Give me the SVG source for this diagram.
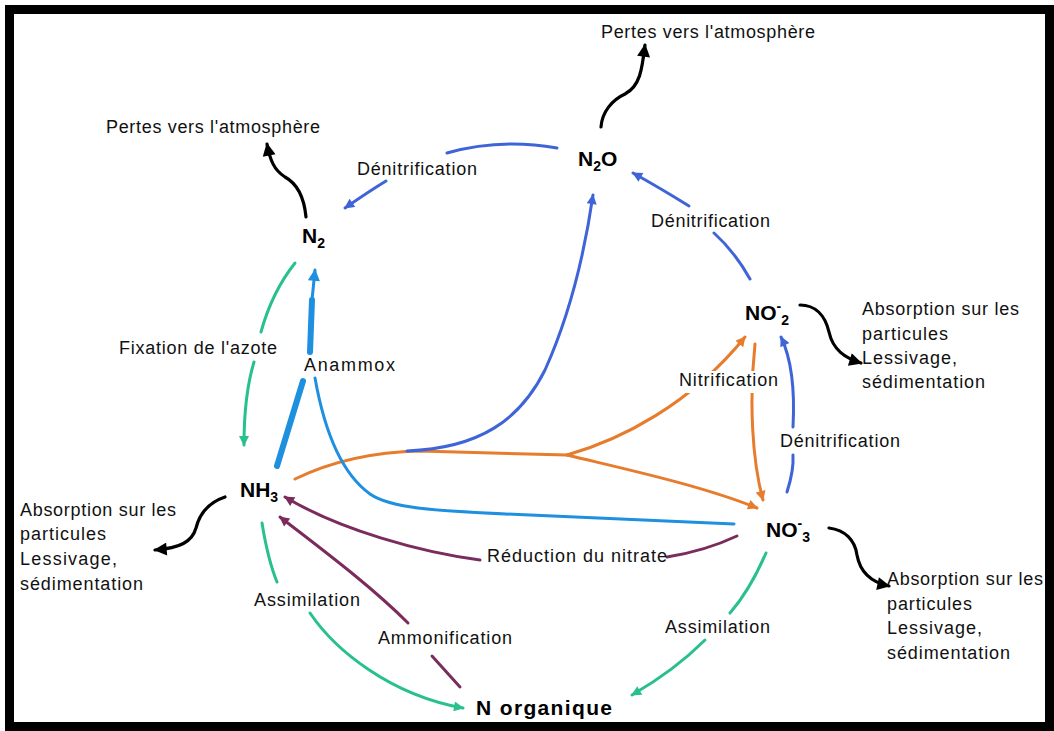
<svg xmlns="http://www.w3.org/2000/svg" width="1054" height="731" viewBox="0 0 1054 731">
<defs>
<style>
.lbl{font-family:"Liberation Sans",Arial,sans-serif;font-size:18px;fill:#111}
.node{font-family:"Liberation Sans",Arial,sans-serif;font-size:21px;font-weight:bold;fill:#000}
.sub{font-size:14px}
.c{fill:none;stroke-width:3;stroke-linecap:round}
.k{stroke:#000;stroke-width:3.2}
.b{stroke:#3e64d8}
.lb{stroke:#1f8fe0}
.o{stroke:#e67c2c}
.g{stroke:#28c08c}
.p{stroke:#7a2c5c}
</style>
<marker id="mk" viewBox="0 0 10 10" refX="9" refY="5" markerWidth="14" markerHeight="13" markerUnits="userSpaceOnUse" orient="auto"><path d="M0,0 L10,5 L0,10 z" fill="#000"/></marker>
<marker id="mb" viewBox="0 0 10 10" refX="9" refY="5" markerWidth="12" markerHeight="10" markerUnits="userSpaceOnUse" orient="auto"><path d="M0,0 L10,5 L0,10 z" fill="#3e64d8"/></marker>
<marker id="mlb" viewBox="0 0 10 10" refX="9" refY="5" markerWidth="13" markerHeight="12" markerUnits="userSpaceOnUse" orient="auto"><path d="M0,0 L10,5 L0,10 z" fill="#1f8fe0"/></marker>
<marker id="mo" viewBox="0 0 10 10" refX="9" refY="5" markerWidth="12" markerHeight="10" markerUnits="userSpaceOnUse" orient="auto"><path d="M0,0 L10,5 L0,10 z" fill="#e67c2c"/></marker>
<marker id="mg" viewBox="0 0 10 10" refX="9" refY="5" markerWidth="12" markerHeight="10" markerUnits="userSpaceOnUse" orient="auto"><path d="M0,0 L10,5 L0,10 z" fill="#28c08c"/></marker>
<marker id="mp" viewBox="0 0 10 10" refX="9" refY="5" markerWidth="12" markerHeight="10" markerUnits="userSpaceOnUse" orient="auto"><path d="M0,0 L10,5 L0,10 z" fill="#7a2c5c"/></marker>
</defs>
<rect x="0" y="0" width="1054" height="731" fill="#fff"/>
<rect x="9.5" y="9.5" width="1040" height="717" fill="#fff" stroke="#000" stroke-width="9"/>

<g id="connectors">
<!-- black loss arrows -->
<path class="c k" d="M306,217 C304,196 296,183 285,177 C274,170 270,160 267,144" marker-end="url(#mk)"/>
<path class="c k" d="M601,127 C602,112 612,100 625,94 C640,86 642,70 645,45" marker-end="url(#mk)"/>
<path class="c k" d="M800,305 C815,305 825,315 829,332 C833,350 845,358 861,363" marker-end="url(#mk)"/>
<path class="c k" d="M829,528 C845,530 855,540 857,555 C860,572 870,582 889,586" marker-end="url(#mk)"/>
<path class="c k" d="M225,497 C210,502 200,512 196,528 C192,542 180,548 155,550" marker-end="url(#mk)"/>
<!-- denitrification (blue) -->
<path class="c b" d="M557,148 Q500,138 447,153"/>
<path class="c b" d="M386,181 Q368,192 345,208" marker-end="url(#mb)"/>
<path class="c b" d="M750,279 Q735,252 714,233"/>
<path class="c b" d="M689,206 Q660,188 633,173" marker-end="url(#mb)"/>
<path class="c b" d="M787,492 Q794,470 793,455"/>
<path class="c b" d="M793,427 C795,390 792,360 781,337" marker-end="url(#mb)"/>
<!-- orange nitrification -->
<path class="c o" d="M295,479 C330,462 370,452 420,451 L567,455"/>
<path class="c o" d="M567,455 C620,440 690,405 745,337" marker-end="url(#mo)"/>
<path class="c o" d="M567,455 C620,468 700,485 757,508" marker-end="url(#mo)"/>
<path class="c o" d="M755,344 C749,400 752,460 763,500" marker-end="url(#mo)"/>
<!-- NH3 to N2O (blue over orange) -->
<path class="c b" d="M407,451 C480,448 520,420 545,370 C572,310 585,250 593,195" marker-end="url(#mb)"/>
<!-- anammox -->
<path class="c lb" d="M734,524 L530,515 C430,511 390,508 370,494 C345,476 326,440 315,378"/>
<path class="c lb" style="stroke-width:6" d="M277,466 L303,381"/>
<path class="c lb" style="stroke-width:6" d="M310,352 L312,300"/>
<path class="c lb" d="M312,300 L315,270" marker-end="url(#mlb)"/>
<!-- green -->
<path class="c g" d="M295,263 Q272,292 261,332"/>
<path class="c g" d="M254,362 Q244,395 244,445" marker-end="url(#mg)"/>
<path class="c g" d="M262,523 Q268,560 277,582"/>
<path class="c g" d="M310,613 C335,650 390,695 463,708" marker-end="url(#mg)"/>
<path class="c g" d="M766,553 Q750,590 730,613"/>
<path class="c g" d="M705,640 Q675,670 632,695" marker-end="url(#mg)"/>
<!-- purple -->
<path class="c p" d="M737,536 Q705,551 667,557"/>
<path class="c p" d="M480,560 C420,552 340,530 285,497" marker-end="url(#mp)"/>
<path class="c p" d="M460,687 L432,656"/>
<path class="c p" d="M408,623 C370,585 320,548 280,517" marker-end="url(#mp)"/>
<!-- labels -->
<rect x="677" y="371" width="103" height="22" fill="#fff"/>
<text class="lbl" x="357" y="175" textLength="120" lengthAdjust="spacing">Dénitrification</text>
<text class="lbl" x="651" y="227" textLength="119" lengthAdjust="spacing">Dénitrification</text>
<text class="lbl" x="780" y="447" textLength="120" lengthAdjust="spacing">Dénitrification</text>
<text class="lbl" x="119" y="354" textLength="158" lengthAdjust="spacing">Fixation de l'azote</text>
<text class="lbl" x="304" y="371" textLength="91" lengthAdjust="spacing">Anammox</text>
<text class="lbl" x="679" y="386" textLength="99" lengthAdjust="spacing">Nitrification</text>
<text class="lbl" x="487" y="562" textLength="180" lengthAdjust="spacing">Réduction du nitrate</text>
<text class="lbl" x="254" y="606" textLength="106" lengthAdjust="spacing">Assimilation</text>
<text class="lbl" x="378" y="644" textLength="134" lengthAdjust="spacing">Ammonification</text>
<text class="lbl" x="665" y="633" textLength="105" lengthAdjust="spacing">Assimilation</text>
</g>

<g id="loss-n2"><text class="lbl" x="106" y="133" textLength="214" lengthAdjust="spacing">Pertes vers l'atmosphère</text></g>
<g id="loss-n2o"><text class="lbl" x="601" y="38" textLength="214" lengthAdjust="spacing">Pertes vers l'atmosphère</text></g>
<g id="sorb-no2">
<text class="lbl" x="862" y="315" textLength="157" lengthAdjust="spacing">Absorption sur les</text>
<text class="lbl" x="862" y="340" textLength="86" lengthAdjust="spacing">particules</text>
<text class="lbl" x="862" y="364" textLength="95" lengthAdjust="spacing">Lessivage,</text>
<text class="lbl" x="862" y="388" textLength="123" lengthAdjust="spacing">sédimentation</text>
</g>
<g id="sorb-nh3">
<text class="lbl" x="20" y="516" textLength="156" lengthAdjust="spacing">Absorption sur les</text>
<text class="lbl" x="20" y="540" textLength="86" lengthAdjust="spacing">particules</text>
<text class="lbl" x="20" y="565" textLength="97" lengthAdjust="spacing">Lessivage,</text>
<text class="lbl" x="20" y="590" textLength="123" lengthAdjust="spacing">sédimentation</text>
</g>
<g id="sorb-no3">
<text class="lbl" x="887" y="585" textLength="156" lengthAdjust="spacing">Absorption sur les</text>
<text class="lbl" x="887" y="610" textLength="85" lengthAdjust="spacing">particules</text>
<text class="lbl" x="887" y="634" textLength="95" lengthAdjust="spacing">Lessivage,</text>
<text class="lbl" x="887" y="659" textLength="123" lengthAdjust="spacing">sédimentation</text>
</g>

<g id="N2"><text class="node" x="302" y="243">N<tspan class="sub" dy="5">2</tspan></text></g>
<g id="N2O"><text class="node" x="578" y="166">N<tspan class="sub" dy="5">2</tspan><tspan dy="-5">O</tspan></text></g>
<g id="NO2"><text class="node" x="745" y="320">NO<tspan class="sub" dy="-9">-</tspan><tspan class="sub" dy="14">2</tspan></text></g>
<g id="NH3"><text class="node" x="240" y="497">NH<tspan class="sub" dy="5">3</tspan></text></g>
<g id="NO3"><text class="node" x="766" y="537">NO<tspan class="sub" dy="-9">-</tspan><tspan class="sub" dy="14">3</tspan></text></g>
<g id="Norg"><text class="node" x="476" y="715" textLength="136" lengthAdjust="spacing">N organique</text></g>
</svg>
